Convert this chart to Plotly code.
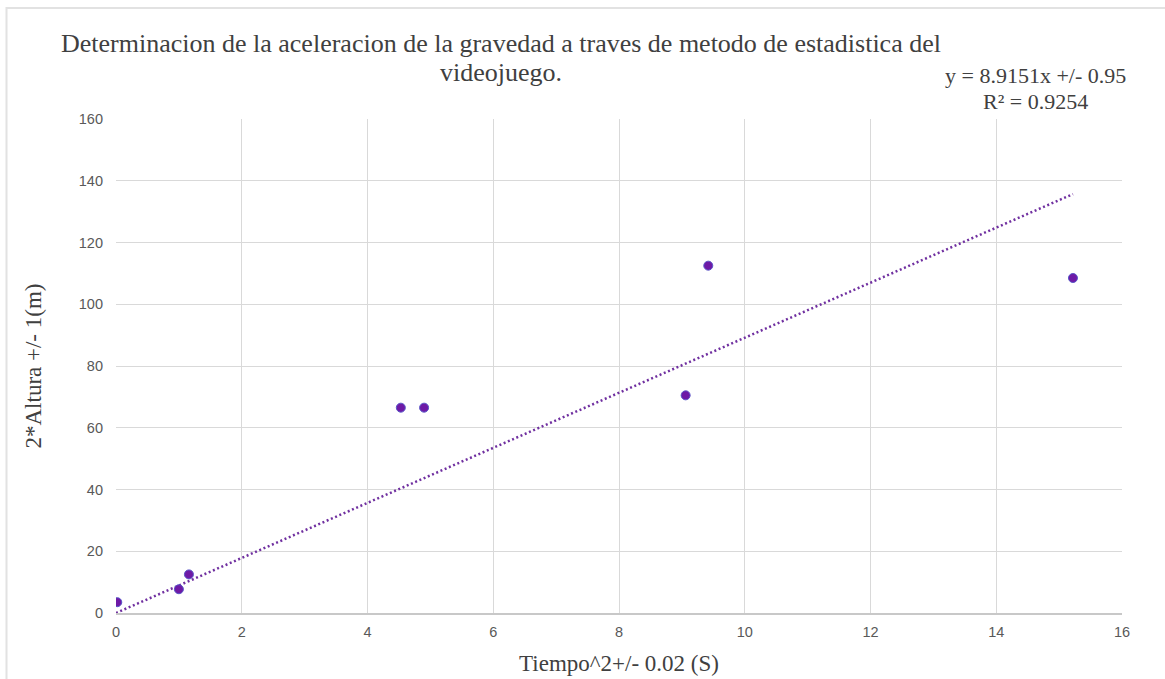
import plotly.graph_objects as go

# Data
tiempo2 = [0.02, 1.0, 1.16, 4.53, 4.90, 9.06, 9.42, 15.22]
altura2 = [3.5, 7.7, 12.5, 66.5, 66.5, 70.5, 112.5, 108.5]

slope = 8.9151
trend_x = [0, max(tiempo2)]
trend_y = [slope * v for v in trend_x]

x_ticks = [0, 2, 4, 6, 8, 10, 12, 14, 16]
y_ticks = [0, 20, 40, 60, 80, 100, 120, 140, 160]

title_lines = ["Determinacion de la aceleracion de la gravedad a traves de metodo de estadistica del",
               "videojuego."]
eq_lines = ["y = 8.9151x +/- 0.95", "R² = 0.9254"]

W, H = 1165, 679
L, R, T, B = 116, 43, 119, 66
pw, ph = W - L - R, H - T - B

def px(x):
    return (x - L) / pw

def py(y):
    return (H - B - y) / ph

fig = go.Figure()
fig.add_trace(go.Scatter(
    x=trend_x, y=trend_y, mode="lines",
    line=dict(color="#7030A0", width=2.5, dash="2px,2.6px"),
    showlegend=False, hoverinfo="skip"))
fig.add_trace(go.Scatter(
    x=tiempo2, y=altura2, mode="markers",
    marker=dict(size=9, color="#6E1AA6", line=dict(color="#5A55C8", width=1)),
    showlegend=False))

axis_common = dict(
    showgrid=True, gridcolor="#d9d9d9", gridwidth=1,
    zeroline=False, ticks="", automargin=False,
    tickfont=dict(family="Liberation Sans", size=14.5, color="#595959"),
)
fig.update_xaxes(range=[0, 16], tickvals=x_ticks, showline=True, linecolor="#c8c8c8",
                 linewidth=1.5, mirror=False, ticklabelstandoff=5,
                 title=dict(text="Tiempo^2+/- 0.02 (S)", standoff=16,
                            font=dict(family="Liberation Serif", size=23, color="#404040")),
                 **axis_common)
fig.update_yaxes(range=[0, 160], tickvals=y_ticks, showline=False, ticklabelstandoff=12,
                 title=dict(text="2*Altura +/- 1(m)", standoff=30,
                            font=dict(family="Liberation Serif", size=23, color="#404040")),
                 **axis_common)

for txt, yc in zip(title_lines, [43, 72]):
    fig.add_annotation(text=txt, xref="paper", yref="paper", x=px(501), y=py(yc),
                       xanchor="center", yanchor="middle", showarrow=False,
                       font=dict(family="Liberation Serif", size=26, color="#404040"))
for txt, yc in zip(eq_lines, [76, 101]):
    fig.add_annotation(text=txt, xref="paper", yref="paper", x=px(1035), y=py(yc),
                       xanchor="center", yanchor="middle", showarrow=False,
                       font=dict(family="Liberation Serif", size=22, color="#404040"))

# outer chart border (extends past image right/bottom)
fig.add_shape(type="rect", xref="paper", yref="paper",
              x0=px(6.5), x1=px(1190), y0=py(700), y1=py(8),
              line=dict(color="#e2e2e2", width=2), layer="below")

fig.update_layout(
    width=W, height=H,
    margin=dict(l=L, r=R, t=T, b=B),
    paper_bgcolor="white", plot_bgcolor="white",
)

fig.write_html("out.html", config={"displayModeBar": False},
               post_script="document.body.style.margin='0';")
